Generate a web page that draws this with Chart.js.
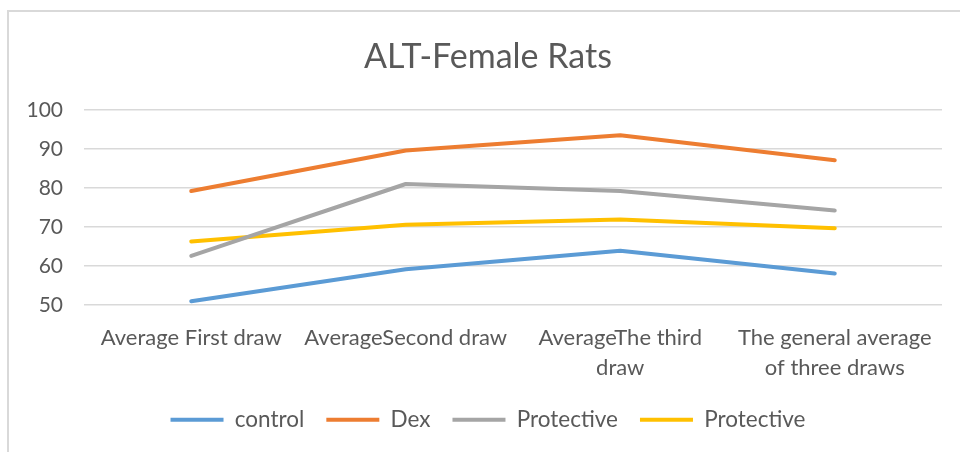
<!DOCTYPE html>
<html>
<head>
<meta charset="utf-8">
<script src="https://cdn.jsdelivr.net/npm/chart.js@4"></script>
<style>
html,body{margin:0;padding:0;background:#fff;}
#wrap{position:relative;width:960px;height:452px;}
#frame{position:absolute;left:7px;top:10px;right:0;bottom:0;border-left:2px solid #d9d9d9;border-top:2px solid #d9d9d9;pointer-events:none;}
canvas{position:absolute;left:0;top:0;}
</style>
</head>
<body>
<div id="wrap"><canvas id="c" width="960" height="452"></canvas><div id="frame"></div></div>
<script>
const categories = [
  "Average First draw",
  "AverageSecond draw",
  ["AverageThe third", "draw"],
  ["The general average", "of three draws"]
];
const controlValues = [51.0, 59.2, 63.9, 58.1];
const dexValues = [79.2, 89.6, 93.5, 87.1];
const protectiveAValues = [62.6, 81.0, 79.2, 74.2];
const protectiveBValues = [66.3, 70.6, 71.9, 69.7];
const seriesNames = ["control", "Dex", "Protective", "Protective"];
const yTicks = [50, 60, 70, 80, 90, 100];

const colors = ["#5B9BD5", "#ED7D31", "#A5A5A5", "#FFC000"];
const allValues = [controlValues, dexValues, protectiveAValues, protectiveBValues];
const FONT = "Lato, 'Open Sans', sans-serif";
const TXT = "#595959";
const LEGEND_TIGHTEN = 14;
const BLOCK_LEFT = 34;

const layoutTweaks = {
  id: 'layoutTweaks',
  beforeLayout(chart) {
    const lg = chart.legend;
    if (lg && !lg._tight) {
      const orig = lg.fit;
      lg.fit = function () { orig.call(this); this.height -= LEGEND_TIGHTEN; };
      lg._tight = true;
    }
  },
  afterLayout(chart) {
    const lg = chart.legend;
    if (lg) { lg.top -= LEGEND_TIGHTEN; lg.bottom -= LEGEND_TIGHTEN; lg.left = BLOCK_LEFT; }
    const tb = chart.titleBlock;
    if (tb) { tb.left = BLOCK_LEFT; }
  }
};

new Chart(document.getElementById('c'), {
  type: 'line',
  data: {
    labels: categories,
    datasets: allValues.map((v, i) => ({
      label: seriesNames[i],
      data: v,
      borderColor: colors[i],
      backgroundColor: colors[i],
      borderWidth: 4,
      borderCapStyle: 'round',
      borderJoinStyle: 'round',
      pointRadius: 0,
      tension: 0,
      fill: false
    }))
  },
  plugins: [layoutTweaks],
  options: {
    responsive: false,
    animation: false,
    devicePixelRatio: 1,
    layout: { padding: { left: 0, right: 18, top: 37, bottom: 11 } },
    plugins: {
      title: {
        display: true,
        text: "ALT-Female Rats",
        color: TXT,
        font: { family: FONT, size: 34, weight: 'normal', lineHeight: 1.2 },
        padding: { top: 0, bottom: 32 }
      },
      legend: {
        position: 'bottom',
        labels: {
          color: TXT,
          font: { family: FONT, size: 22.5 },
          boxWidth: 53,
          boxHeight: 4,
          padding: 22,
          generateLabels: (chart) => {
            const items = Chart.defaults.plugins.legend.labels.generateLabels(chart);
            items.forEach((it, i) => { it.lineWidth = 0; it.fillStyle = colors[i]; it.strokeStyle = colors[i]; });
            return items;
          }
        }
      },
      tooltip: { enabled: false }
    },
    scales: {
      x: {
        offset: true,
        grid: { display: false, drawTicks: false },
        border: { display: false },
        ticks: {
          color: TXT,
          font: { family: FONT, size: 22, lineHeight: 1.35 },
          maxRotation: 0,
          autoSkip: false,
          padding: 18
        }
      },
      y: {
        min: 50,
        max: 100,
        afterBuildTicks: (axis) => { axis.ticks = yTicks.map(v => ({ value: v })); },
        afterFit: (axis) => { axis.width = 84; },
        grid: { color: "#d9d9d9", lineWidth: 1.5, drawTicks: false },
        border: { display: false },
        ticks: {
          color: TXT,
          font: { family: FONT, size: 21 },
          padding: 21
        }
      }
    }
  }
});
</script>
</body>
</html>
